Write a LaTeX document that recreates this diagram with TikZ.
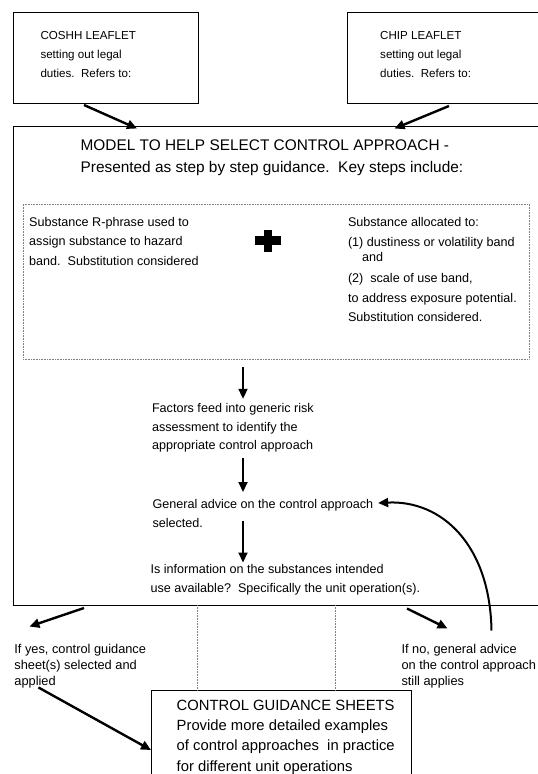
\documentclass[tikz,border=0pt]{standalone}
\usepackage{fontspec}
\setmainfont{Liberation Sans}
\usetikzlibrary{arrows.meta,positioning,calc}

\begin{document}
\begin{tikzpicture}[x=1pt, y=-1pt, >={Triangle[length=10pt,width=9pt]},
  frame/.style={rectangle, anchor=north west, inner sep=0pt, outer sep=0pt},
  boxed/.style={frame, draw, line width=0.9pt},
  txt/.style={anchor=north west, inner sep=0pt, outer sep=0pt, align=left},
  leaftext/.style={txt, font=\fontsize{11.6}{19}\selectfont},
  titletext/.style={txt, font=\fontsize{15.4}{22}\selectfont},
  steptext/.style={txt, font=\fontsize{12.6}{19}\selectfont},
  branchtext/.style={txt, font=\fontsize{12.8}{16}\selectfont},
  sheettext/.style={txt, font=\fontsize{14.8}{20.3}\selectfont},
  flow/.style={->, line width=2pt},
  guide/.style={gray, densely dotted, line width=0.6pt}]
\useasboundingbox (0,0) rectangle (538,774);

\node[boxed, minimum width=185pt, minimum height=91pt] (coshh) at (13,12) {};
\node[frame, minimum width=191pt, minimum height=91pt] (chip) at (347,12) {};
\draw[line width=0.9pt] (chip.north east) -- (chip.north west) -- (chip.south west) -- (chip.south east);
\node[leaftext] (coshhtxt) at (40.5,31) {COSHH LEAFLET\\setting out legal\\duties.\ \ Refers to:};
\node[leaftext] (chiptxt) at (380.2,31) {CHIP LEAFLET\\setting out legal\\duties.\ \ Refers to:};

\node[frame, minimum width=525pt, minimum height=479pt] (model) at (13,126) {};
\draw[line width=0.9pt] (model.north east) -- (model.north west) -- (model.south west) -- (model.south east);
\node[titletext] (title) at (80.6,140.2) {MODEL TO HELP SELECT CONTROL APPROACH -\\Presented as step by step guidance.\ \ Key steps include:};

\node[frame, draw, guide, minimum width=506pt, minimum height=155pt] (steps) at (23,204) {};
\node[steptext, font=\fontsize{12.6}{19.5}\selectfont] (hazard) at (29.2,217) {Substance R-phrase used to\\assign substance to hazard\\band.\ \ Substitution considered};
\node[steptext, font=\fontsize{12.6}{20}\selectfont] (exposure) at (348,217) {Substance allocated to:\\(1) dustiness or volatility band\\[-5pt]\hspace*{14pt}and\\[1pt](2)\ \ scale of use band,\\to address exposure potential.\\[-0.5pt]Substitution considered.};
\node[inner sep=0pt] (plus) at (268,240.5) {};
\fill ($(plus)+(-12.8,-4.3)$) rectangle ($(plus)+(12.8,4.3)$);
\fill ($(plus)+(-4.3,-11)$) rectangle ($(plus)+(4.3,11)$);

\node[steptext] (factors) at (152,403.8) {Factors feed into generic risk\\assessment to identify the\\[-1.5pt]appropriate control approach};
\node[steptext] (advice) at (152.5,499) {General advice on the control approach\\selected.};
\node[steptext] (query) at (150.5,564.5) {Is information on the substances intended\\use available?\ \ Specifically the unit operation(s).};

\coordinate (a1) at (243,367);
\coordinate (a3) at (243,521);
\draw[flow, shorten >=5pt] (a1) -- (a1 |- factors.north);
\draw[flow, shorten <=6pt, shorten >=7pt] (factors.south -| a1) -- (advice.north -| a1);
\draw[flow, shorten >=2pt] (a3) -- (a3 |- query.north);

\draw[flow, line width=2.4pt] ($(coshh.south west)+(71,2)$) -- ($(model.north west)+(124,2.5)$);
\draw[flow, line width=2.4pt] ($(chip.south west)+(102,3)$) -- ($(model.north west)+(381.5,2.5)$);

\node[branchtext] (yes) at (14.4,644.5) {If yes, control guidance\\sheet(s) selected and\\applied};
\node[branchtext] (no) at (401.5,644.5) {If no, general advice\\on the control approach\\still applies};

\node[frame, minimum width=260.8pt, minimum height=83.5pt] (sheetbox) at (151,690.5) {};
\draw[line width=0.9pt] (sheetbox.south west) -- (sheetbox.north west) -- (sheetbox.north east) -- (sheetbox.south east);
\node[sheettext] (sheets) at (176.7,700) {CONTROL GUIDANCE SHEETS\\Provide more detailed examples\\of control approaches\ \ in practice\\for different unit operations};

\draw[guide] (197.3,0 |- model.south) -- (197.3,0 |- sheetbox.north);
\draw[guide] (335.6,0 |- model.south) -- (335.6,0 |- sheetbox.north);

\coordinate (c1) at ($(no.north west)+(90,-14)$);
\draw[flow, line width=2.4pt] ($(model.south west)+(71,3)$) -- ($(yes.north west)+(15,-18)$);
\draw[flow, line width=2.4pt] ($(model.south west)+(394,3.5)$) -- ($(no.north west)+(46,-16)$);
\draw[flow] (c1) .. controls (490,545) and (442,500) .. ($(advice.north east)+(5,4)$);
\draw[flow, line width=2.4pt] ($(yes.south west)+(24,-1)$) -- ($(sheetbox.north west)+(0,59.5)$);
\end{tikzpicture}
\end{document}
